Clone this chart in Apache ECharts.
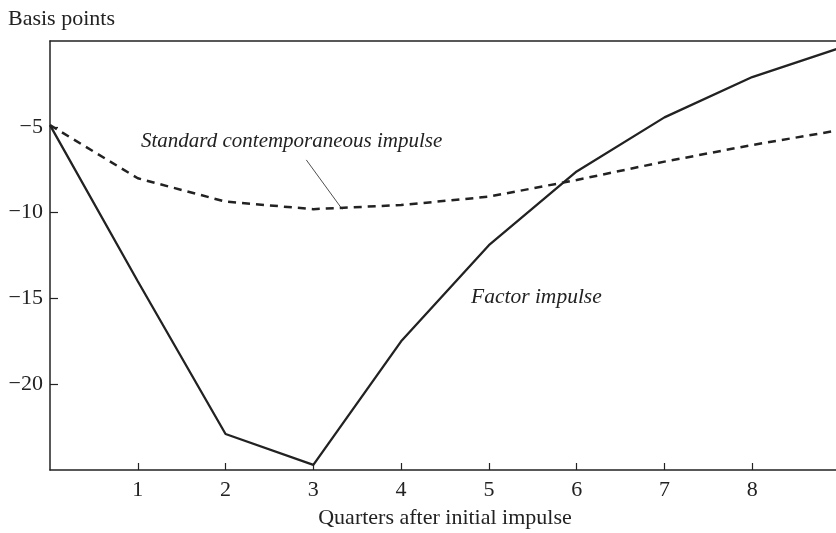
<!DOCTYPE html>
<html>
<head>
<meta charset="utf-8">
<script src="https://cdn.jsdelivr.net/npm/echarts@6/dist/echarts.min.js"></script>
<style>html,body{margin:0;padding:0;background:#fff}#c{width:836px;height:533px}</style>
</head>
<body>
<div id="c"></div>
<script>
const quarters = [0, 1, 2, 3, 4, 5, 6, 7, 8, 9];
const factorImpulse = [-4.9, -14.0, -22.9, -24.7, -17.5, -11.9, -7.6, -4.45, -2.1, -0.4];
const standardImpulse = [-4.9, -8.0, -9.36, -9.8, -9.56, -9.07, -8.1, -7.03, -6.06, -5.19];
const yTicks = [-5, -10, -15, -20];
const xTicks = [1, 2, 3, 4, 5, 6, 7, 8];
const leaderLine = [[2.92, -6.93], [3.33, -9.81]];
const labelStandard = 'Standard contemporaneous impulse';
const labelFactor = 'Factor impulse';
const yTitle = 'Basis points';
const xTitle = 'Quarters after initial impulse';

const serif = '"Liberation Serif", "DejaVu Serif", serif';
const ink = '#222';

const chart = echarts.init(document.getElementById('c'));
chart.setOption({
  animation: false,
  backgroundColor: '#fff',
  grid: { left: 50, top: 41, right: -4, bottom: 63, containLabel: false, outerBoundsMode: 'none' },
  xAxis: [{
    type: 'value', min: 0, max: 9, interval: 1, position: 'bottom',
    axisLine: { show: true, onZero: false, lineStyle: { color: ink, width: 1.5 } },
    axisTick: { show: true, inside: true, length: 7, customValues: xTicks, lineStyle: { color: ink, width: 1.2 } },
    axisLabel: {
      color: ink, fontFamily: serif, fontSize: 22, margin: 9,
      customValues: xTicks,
      formatter: v => String(v)
    },
    splitLine: { show: false },
    name: xTitle, nameLocation: 'middle', nameGap: 37,
    nameTextStyle: { color: ink, fontFamily: serif, fontSize: 22 }
  }, {
    type: 'value', position: 'top', min: 0, max: 9,
    axisLine: { show: true, onZero: false, lineStyle: { color: ink, width: 1.5 } },
    axisTick: { show: false }, axisLabel: { show: false }, splitLine: { show: false }
  }],
  yAxis: [{
    type: 'value', min: -25, max: 0, interval: 5,
    axisLine: { show: true, onZero: false, lineStyle: { color: ink, width: 1.5 } },
    axisTick: { show: true, inside: true, length: 8, customValues: yTicks, lineStyle: { color: ink, width: 1.2 } },
    axisLabel: {
      color: ink, fontFamily: serif, fontSize: 22, margin: 7,
      customValues: yTicks,
      formatter: v => '\u2212' + Math.abs(v)
    },
    splitLine: { show: false }
  }],
  graphic: [
    { type: 'text', left: 8, top: 8, style: { text: yTitle, font: '22px ' + serif, fill: ink } },
    { type: 'text', left: 141, top: 131, style: { text: labelStandard, font: 'italic 21px ' + serif, fill: ink } },
    { type: 'text', left: 471, top: 286, style: { text: labelFactor, font: 'italic 21.5px ' + serif, fill: ink } }
  ],
  series: [
    {
      type: 'line', data: quarters.map((q, i) => [q, factorImpulse[i]]),
      symbol: 'none', lineStyle: { color: ink, width: 2.3 }
    },
    {
      type: 'line', data: quarters.map((q, i) => [q, standardImpulse[i]]),
      symbol: 'none', lineStyle: { color: ink, width: 2.5, type: [8, 6] },
      markLine: {
        silent: true, symbol: 'none', label: { show: false },
        lineStyle: { color: ink, width: 0.8, type: 'solid' },
        data: [[{ coord: leaderLine[0] }, { coord: leaderLine[1] }]]
      }
    }
  ]
});
</script>
</body>
</html>
